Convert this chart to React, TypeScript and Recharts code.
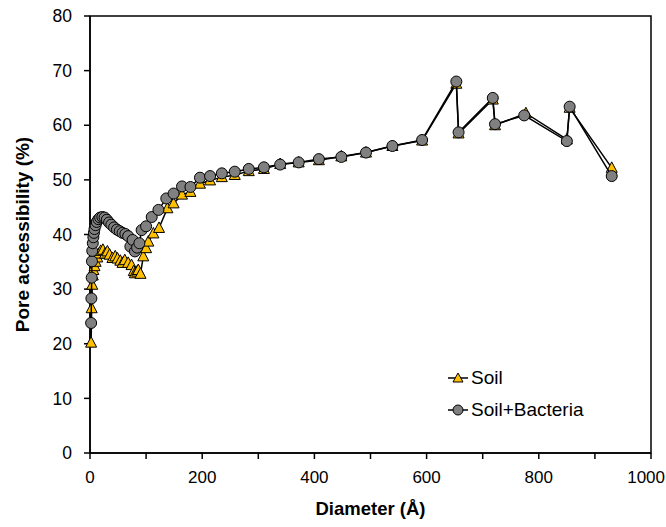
import React from "react";
import {
  ScatterChart,
  Scatter,
  XAxis,
  YAxis,
  ReferenceArea,
  Legend,
  Label,
} from "recharts";

// pore diameter (Å) and accessibility (%)
const soilDiameter = [
  2, 3, 4, 5, 6, 8, 10, 13, 16, 19, 23, 27, 31, 35, 40, 45, 49, 54, 58, 62, 68, 74, 78, 80, 84, 86, 90,
  95, 100, 104, 113, 123, 138, 149, 164, 179, 196, 214, 235, 258, 283, 310, 339, 372, 408, 448, 492,
  539, 592, 653, 657, 718, 722, 777, 850, 855, 930,
];
const soilAccess = [
  20.2, 26.5, 30.8, 32.5, 33.5, 34.2, 35, 35.8, 36.5, 37, 37.2, 36.5, 36.9, 36.3, 35.7, 36, 35.6, 35.2,
  34.8, 35.3, 34.8, 34.4, 33.3, 32.9, 33.2, 33.5, 32.8, 36, 37.5, 38.7, 40.2, 41.2, 44.8, 45.7, 47.3,
  47.8, 49.3, 49.9, 50.5, 50.9, 51.6, 52, 52.9, 53.2, 53.6, 54.3, 55, 56.2, 57.2, 67.6, 58.5, 64.7, 60,
  62.2, 57.4, 63.2, 52.2,
];

const bactDiameter = [
  2, 2.5, 3, 3.5, 4, 5, 6, 7, 8, 10, 12, 15, 18, 22, 26, 30, 34, 38, 43, 48, 53, 58, 63, 68, 72, 76,
  80, 84, 88, 92, 100, 110, 122, 136, 149, 164, 179, 196, 214, 235, 258, 283, 310, 339, 372, 408, 448,
  492, 539, 592, 653, 657, 718, 722, 774, 850, 855, 930,
];
const bactAccess = [
  23.8, 28.3, 32.1, 35.1, 37, 38.4, 39.5, 40.3, 41, 41.7, 42.3, 42.8, 43.1, 43.2, 43.1, 42.7, 42.2,
  41.8, 41.3, 40.9, 40.6, 40.3, 40.1, 39.7, 37.8, 39, 36.9, 37.6, 38.4, 40.8, 41.5, 43.2, 44.5, 46.6,
  47.5, 48.8, 48.7, 50.4, 50.7, 51.2, 51.5, 52, 52.3, 52.8, 53.2, 53.8, 54.2, 55, 56.2, 57.3, 68, 58.7,
  65, 60.2, 61.8, 57.1, 63.4, 50.7,
];

const xTicks = [0, 100, 200, 300, 400, 500, 600, 700, 800, 900, 1000];
const yTicks = [0, 10, 20, 30, 40, 50, 60, 70, 80];

const soil = soilDiameter.map((d, i) => ({ d, v: soilAccess[i] }));
const bact = bactDiameter.map((d, i) => ({ d, v: bactAccess[i] }));

const FONT = "'Liberation Sans', Arial, sans-serif";
const YELLOW = "#FFC000";
const GREY = "#808080";
const W = 666;

const Triangle = (p: any) => {
  const { cx, cy } = p;
  return (
    <path
      d={`M${cx},${cy - 6} L${cx + 5.5},${cy + 4.5} L${cx - 5.5},${cy + 4.5} Z`}
      fill={YELLOW}
      stroke="#000"
      strokeWidth={1}
    />
  );
};

const Dot = (p: any) => (
  <circle cx={p.cx} cy={p.cy} r={5.5} fill={GREY} stroke="#000" strokeWidth={1} />
);

// x tick labels every 200, kept inside the picture at the right edge
const XTick = (p: any) => {
  const { x, y, payload } = p;
  const v = payload.value;
  if (v % 200 !== 0) return null;
  const label = String(v);
  const half = (label.length * 0.556 * 17) / 2;
  const cx = Math.min(x, W - 1 - half);
  return (
    <text x={cx} y={y} dy="0.71em" textAnchor="middle" fontFamily={FONT} fontSize={17} fill="#000">
      {label}
    </text>
  );
};

const LegendBox = () => {
  const rows = [
    { name: "Soil", tri: true },
    { name: "Soil+Bacteria", tri: false },
  ];
  return (
    <div style={{ fontFamily: FONT, fontSize: 19, color: "#000" }}>
      {rows.map((r) => (
        <div key={r.name} style={{ display: "flex", alignItems: "center", height: 32 }}>
          <svg width={22} height={14} style={{ marginRight: 2 }}>
            <line x1={1} y1={7} x2={21} y2={7} stroke="#000" strokeWidth={1.5} />
            {r.tri ? (
              <path d="M11,2 L16,11 L6,11 Z" fill={YELLOW} stroke="#000" strokeWidth={1} />
            ) : (
              <circle cx={11} cy={7} r={5} fill={GREY} stroke="#000" strokeWidth={1} />
            )}
          </svg>
          <span>{r.name}</span>
        </div>
      ))}
    </div>
  );
};

const YTitle = (props: any) => {
  const vb = props.viewBox;
  const cy = vb.y + vb.height / 2;
  return (
    <text
      x={22}
      y={cy}
      transform={`rotate(-90, 22, ${cy})`}
      textAnchor="middle"
      dominantBaseline="central"
      fontFamily={FONT}
      fontSize={19}
      fontWeight="bold"
      fill="#000"
    >
      Pore accessibility (%)
    </text>
  );
};

const XTitle = (props: any) => {
  const vb = props.viewBox;
  return (
    <text
      x={vb.x + vb.width / 2}
      y={508}
      textAnchor="middle"
      dominantBaseline="central"
      fontFamily={FONT}
      fontSize={18.5}
      fontWeight="bold"
      fill="#000"
    >
      Diameter (Å)
    </text>
  );
};

const tickStyle = { fill: "#000", fontSize: 17.5, fontFamily: FONT };

export default function App() {
  return (
    <div style={{ position: "absolute", left: 0, top: 0, background: "#fff" }}>
      <ScatterChart width={W} height={527} margin={{ top: 16, right: 15, left: 0, bottom: 0 }}>
        <ReferenceArea x1={0} x2={1000} y1={0} y2={80} fill="none" stroke="#000" strokeWidth={1.5} />
        <XAxis
          type="number"
          dataKey="d"
          domain={[0, 1000]}
          ticks={xTicks}
          interval={0}
          tick={XTick}
          tickSize={6}
          tickMargin={12}
          height={74}
          axisLine={{ stroke: "#000", strokeWidth: 1.5 }}
          tickLine={{ stroke: "#000", strokeWidth: 1.5 }}
        >
          <Label content={XTitle} />
        </XAxis>
        <YAxis
          type="number"
          dataKey="v"
          domain={[0, 80]}
          ticks={yTicks}
          interval={0}
          tick={tickStyle}
          tickSize={6}
          tickMargin={12}
          width={90}
          axisLine={{ stroke: "#000", strokeWidth: 1.5 }}
          tickLine={{ stroke: "#000", strokeWidth: 1.5 }}
        >
          <Label content={YTitle} />
        </YAxis>
        <Scatter
          name="Soil"
          data={soil}
          shape={Triangle}
          line={{ stroke: "#000", strokeWidth: 1.5 }}
          lineType="joint"
          isAnimationActive={false}
        />
        <Scatter
          name="Soil+Bacteria"
          data={bact}
          shape={Dot}
          line={{ stroke: "#000", strokeWidth: 1.5 }}
          lineType="joint"
          isAnimationActive={false}
        />
        <Legend
          layout="vertical"
          align="center"
          verticalAlign="middle"
          content={LegendBox}
          wrapperStyle={{ left: 447, top: 362, width: 200, height: 64 }}
        />
      </ScatterChart>
    </div>
  );
}
